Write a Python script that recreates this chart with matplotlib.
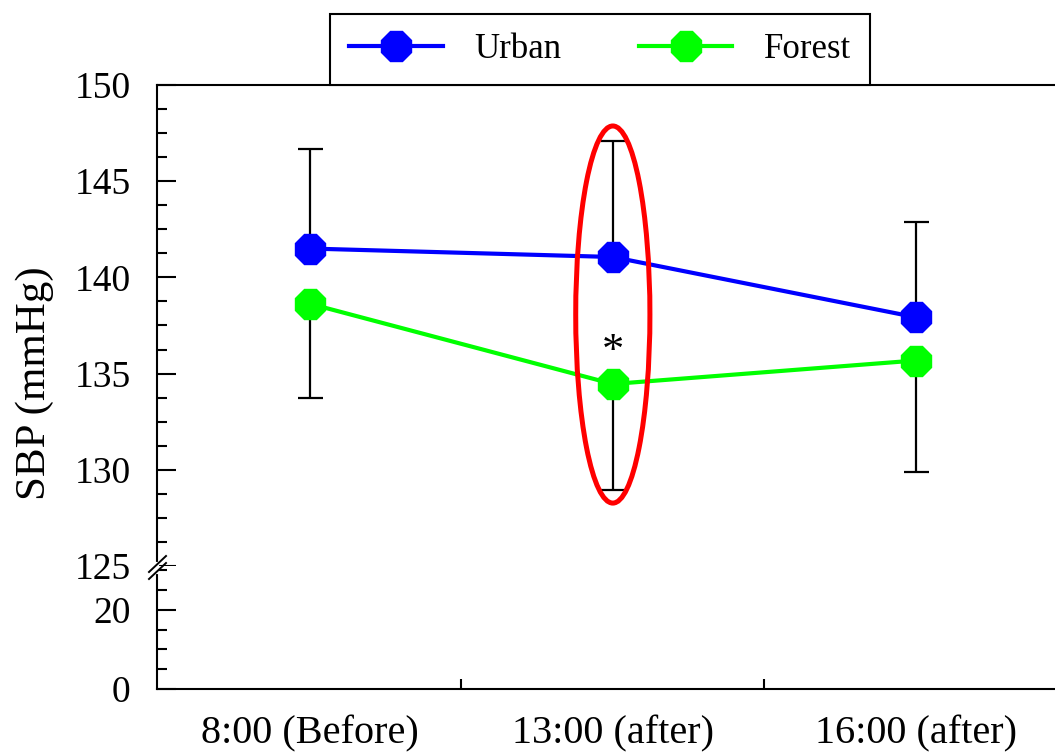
import numpy as np
import matplotlib
matplotlib.use('Agg')
import matplotlib.pyplot as plt
from matplotlib.patches import Ellipse
from matplotlib.lines import Line2D
from matplotlib.ticker import MultipleLocator, FixedLocator

plt.rcParams['font.family'] = ['Liberation Serif', 'DejaVu Serif']

# data
times = ['8:00 (Before)', '13:00 (after)', '16:00 (after)']
urban_mean = [141.5, 141.06, 137.93]
urban_err = [5.15, 6.02, 4.95]
forest_mean = [138.63, 134.46, 135.68]
forest_err = [4.9, 5.52, 5.82]
sig_idx = 1
sig_y = 136.1

W, H = 1055, 754
fig = plt.figure(figsize=(W / 100, H / 100), dpi=100)

# axes boxes in pixels (left, top, right, bottom) -> figure fractions
def px_box(l, t, r, b):
    return [l / W, 1 - b / H, (r - l) / W, (b - t) / H]

ax_top = fig.add_axes(px_box(157, 85, 1055, 566))
ax_bot = fig.add_axes(px_box(157, 566, 1055, 689), sharex=ax_top)

x = np.arange(len(times))

for ax in (ax_top, ax_bot):
    # one sided error bars: urban up, forest down
    ax.errorbar(x, urban_mean, yerr=[np.zeros(len(x)), urban_err], fmt='none',
                ecolor='black', elinewidth=1.6, capsize=9, capthick=1.6, zorder=2)
    ax.errorbar(x, forest_mean, yerr=[forest_err, np.zeros(len(x))], fmt='none',
                ecolor='black', elinewidth=1.6, capsize=9, capthick=1.6, zorder=2)
    ax.plot(x, urban_mean, color='#0000FF', lw=3, marker='8', ms=23, label='Urban', zorder=3)
    ax.plot(x, forest_mean, color='#00FF00', lw=3, marker='8', ms=23, label='Forest', zorder=3)
    ax.spines['right'].set_visible(False)
    for s in ax.spines.values():
        s.set_linewidth(1.5)

ax_top.set_xlim(-0.505, 2.46)
ax_top.set_ylim(125, 150)
ax_bot.set_ylim(0, 31.1)

ax_top.spines['bottom'].set_visible(False)
ax_bot.spines['top'].set_visible(False)

# y ticks
ax_top.yaxis.set_major_locator(MultipleLocator(5))
ax_top.yaxis.set_minor_locator(MultipleLocator(1.25))
ax_bot.yaxis.set_major_locator(MultipleLocator(20))
ax_bot.yaxis.set_minor_locator(MultipleLocator(5))
for ax in (ax_top, ax_bot):
    ax.tick_params(axis='y', which='major', direction='in', length=14, width=1.5,
                   labelsize=27, pad=19)
    ax.tick_params(axis='y', which='minor', direction='in', length=7, width=1.5)

# x ticks: labels at categories, small marks between them
ax_top.tick_params(axis='x', which='both', bottom=False, labelbottom=False)
ax_bot.set_xticks(x)
ax_bot.set_xticklabels(times)
ax_bot.xaxis.set_minor_locator(FixedLocator([0.5, 1.5]))
ax_bot.tick_params(axis='x', which='major', length=0, labelsize=29, pad=19)
ax_bot.tick_params(axis='x', which='minor', direction='in', length=7, width=1.5)

fig.text(35 / W, 1 - 383 / H, 'SBP (mmHg)', rotation=90, ha='center', va='center',
         fontsize=31)

# significance marker and red ellipse
ax_top.text(x[sig_idx], sig_y, '*', ha='center', va='center', fontsize=32)
ax_top.add_patch(Ellipse((x[sig_idx], 138.07), 0.245, 19.6, fill=False,
                         edgecolor='#FF0000', lw=3.6, zorder=4))

# axis break marks on the left spine
fig.add_artist(Line2D([157 / W, 157 / W], [1 - 564 / H, 1 - 572 / H],
                      color='white', lw=3, zorder=10))
for yb in (564, 571):
    fig.add_artist(Line2D([149 / W, 166 / W], [1 - (yb + 8) / H, 1 - (yb - 8) / H],
                          color='black', lw=1.4, zorder=11))

# legend box sitting on top of the plot
leg = ax_top.legend(loc='lower left', bbox_to_anchor=(330 / W, 1 - 85 / H, 540 / W, 77 / H),
                    bbox_transform=fig.transFigure, mode='expand', ncol=2,
                    borderaxespad=0, fontsize=25, handlelength=2.7, handletextpad=0.9,
                    columnspacing=1.1, borderpad=0.55, numpoints=1, fancybox=False,
                    framealpha=1, edgecolor='black')
leg.get_frame().set_linewidth(1.5)

fig.savefig('out.png', dpi=100)
